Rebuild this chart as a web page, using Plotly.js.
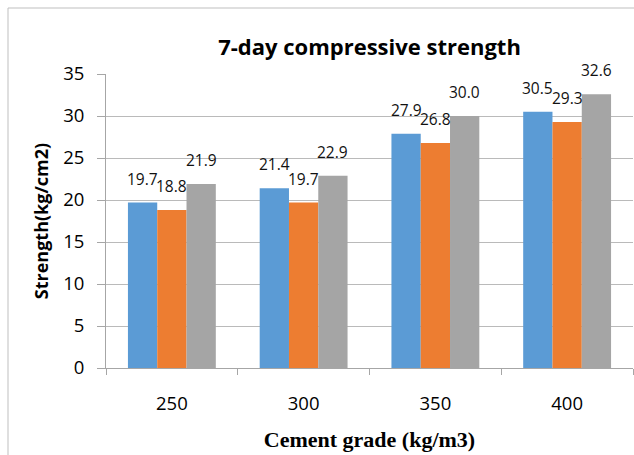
<!DOCTYPE html>
<html>
<head>
<meta charset="utf-8">
<script src="https://cdn.plot.ly/plotly-3.0.1.min.js"></script>
<style>html,body{margin:0;padding:0;background:#fff;}#chart{width:634px;height:455px;}</style>
</head>
<body>
<div id="chart"></div>
<script>
var categories = ['250', '300', '350', '400'];
var seriesA = [19.7, 21.4, 27.9, 30.5];
var seriesB = [18.8, 19.7, 26.8, 29.3];
var seriesC = [21.9, 22.9, 30.0, 32.6];
var colors = ['#5B9BD5', '#ED7D31', '#A5A5A5'];
var yTicks = [0, 5, 10, 15, 20, 25, 30, 35];

var allSeries = [seriesA, seriesB, seriesC];
var traces = allSeries.map(function (vals, i) {
  return {
    type: 'bar', x: categories, y: vals, name: 'S' + (i + 1),
    marker: {color: colors[i], line: {width: 0}},
    hoverinfo: 'none'
  };
});

var sansFont = '"Open Sans", sans-serif';
var plotW = 634 - 106 - 1;
var catW = plotW / categories.length;
var bargap = 0.333;
var barW = catW * (1 - bargap) / 3;
var annotations = [];
allSeries.forEach(function (vals, i) {
  vals.forEach(function (v, j) {
    annotations.push({
      x: j, y: v, xref: 'x', yref: 'y',
      text: v.toFixed(1), showarrow: false,
      xanchor: 'center', yanchor: 'bottom',
      xshift: (i - 1) * barW, yshift: 11,
      font: {family: sansFont, size: 15.5, color: '#111'}
    });
  });
});

var layout = {
  width: 634, height: 455,
  margin: {l: 106, r: 1, t: 74, b: 87},
  paper_bgcolor: '#fff', plot_bgcolor: '#fff',
  showlegend: false, barmode: 'group', bargap: bargap, bargroupgap: 0,
  title: {text: '<b>7-day compressive strength</b>', x: 0.5, xref: 'paper', y: 0.897, yanchor: 'middle',
          font: {family: sansFont, size: 22, color: '#000'}},
  xaxis: {
    type: 'category', tickson: 'boundaries', ticks: 'outside', ticklen: 6, tickcolor: '#a6a6a6',
    ticklabelstandoff: 19,
    showline: true, linecolor: '#a6a6a6', linewidth: 1,
    showgrid: false, tickangle: 0, range: [-0.5, 3.5],
    tickfont: {family: sansFont, size: 18.5, color: '#000'},
    title: {text: '<b>Cement grade (kg/m3)</b>', standoff: 17,
            font: {family: '"Liberation Serif", "Times New Roman", serif', size: 22, color: '#000'}}
  },
  yaxis: {
    range: [0, 35], tickvals: yTicks, ticktext: yTicks.map(String),
    ticks: 'outside', ticklen: 8, tickcolor: '#a6a6a6',
    ticklabelstandoff: 9,
    showline: true, linecolor: '#a6a6a6', linewidth: 1,
    showgrid: true, gridcolor: '#bababa', gridwidth: 1, zeroline: false,
    tickfont: {family: sansFont, size: 18.5, color: '#000'},
    title: {text: '<b>Strength(kg/cm2)</b>', standoff: 9,
            font: {family: sansFont, size: 18, color: '#000'}}
  },
  annotations: annotations,
  shapes: [{
    type: 'rect', xref: 'paper', yref: 'paper',
    x0: (8 - 106) / plotW, x1: 1.2, y0: -0.5, y1: (368 - 8) / 294,
    line: {color: '#bfbfbf', width: 1}, fillcolor: 'rgba(0,0,0,0)', layer: 'below'
  }]
};

Plotly.newPlot('chart', traces, layout, {displayModeBar: false, staticPlot: true});
</script>
</body>
</html>
